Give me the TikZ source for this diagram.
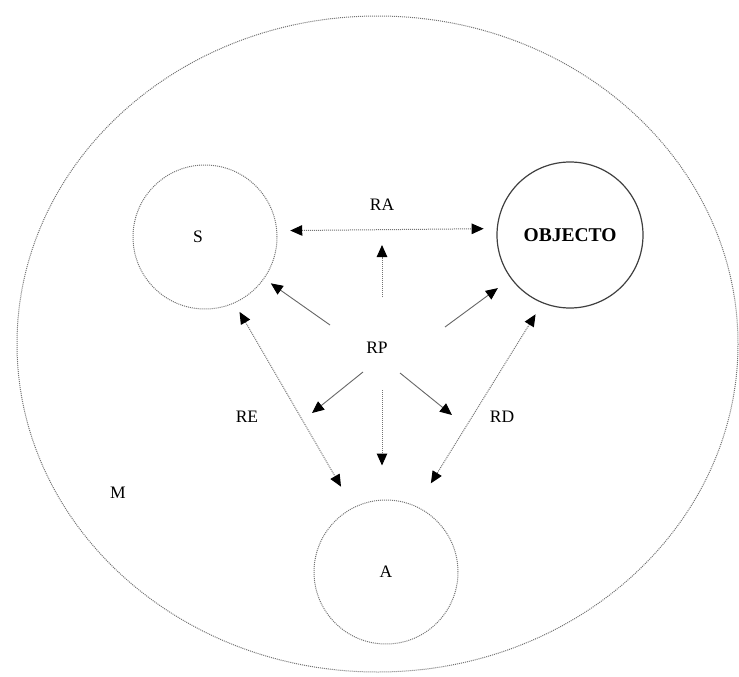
\documentclass[tikz,border=0pt]{standalone}
\usepackage{fontspec}
\setmainfont{Liberation Serif}
\usetikzlibrary{arrows.meta,positioning}

\begin{document}
\begin{tikzpicture}[x=1pt,y=-1pt,line width=0.8pt,
  >={Triangle[length=12pt,width=10.5pt,color=black]},
  dots/.style={draw=black!55,line width=1pt,dash pattern=on 1pt off 1pt},
  plainarr/.style={draw=black!60,line width=0.9pt,->},
  ent/.style={circle,inner sep=0pt,minimum size=144pt,font=\fontsize{17.5}{20}\selectfont},
  lab/.style={inner sep=1pt,font=\fontsize{17.5}{20}\selectfont}]
\useasboundingbox (0,0) rectangle (739,677);
% the medium M
\draw[dots] (377.5,344) ellipse [x radius=360.5,y radius=328];
\node[lab] (M) at (118,493) {M};
% the three entities
\node[ent,dots] (S) at (205,237) {S\hspace*{14pt}};
\node[ent,draw=black!75,line width=1.2pt,minimum size=146pt,
  font=\fontsize{19.5}{22}\selectfont\bfseries] (obj) at (570,235) {OBJECTO};
\node[ent,dots] (A) at (386,572) {A};
% relation labels
\node[lab] (RA) at (382,205) {RA};
\node[lab] (RP) at (377,348) {RP};
\node[lab] (RE) at (247,417) {RE};
\node[lab] (RD) at (502,417) {RD};
% loose ends round RP
\coordinate (rpS) at (330,325);
\coordinate (rpO) at (445,327);
\coordinate (rpN) at (382,297);
\coordinate (raM) at (382,245);
\coordinate (rpSW) at (363,372);
\coordinate (reM) at (312,413);
\coordinate (rpSE) at (400,373);
\coordinate (rdM) at (452,415);
\coordinate (rpD) at (382,390);
% two-way relations
\draw[dots,<->,shorten <=13pt,shorten >=13pt] (S.5) -- (obj.175);
\draw[dots,<->,shorten <=10pt,shorten >=24pt] (S.-66) -- (A.117);
\draw[dots,<->,shorten <=13pt,shorten >=27pt] (obj.-112) -- (A.65);
% arrows out of RP
\draw[plainarr,shorten >=8pt] (rpS) -- (S);
\draw[plainarr,shorten >=16pt] (rpO) -- (obj);
\draw[plainarr] (rpSW) -- (reM);
\draw[plainarr] (rpSE) -- (rdM);
\draw[dots,->] (rpN) -- (raM);
\draw[dots,->,shorten >=34pt] (rpD) -- (rpD |- A.north);
\end{tikzpicture}
\end{document}
